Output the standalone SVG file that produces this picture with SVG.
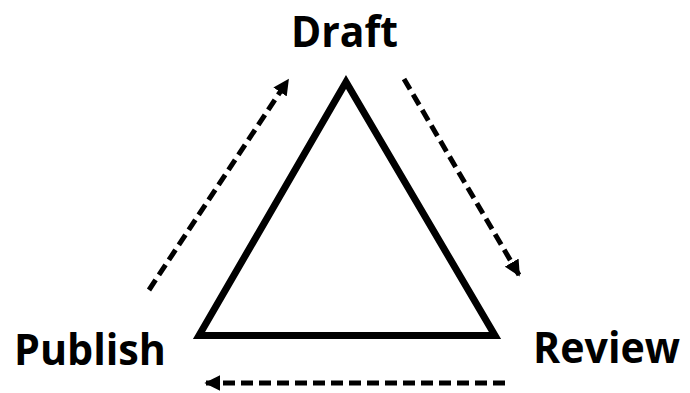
<svg xmlns="http://www.w3.org/2000/svg" width="690" height="393" viewBox="0 0 690 393">
<defs>
<style>
.lbl{font-family:"Open Sans","Noto Sans","Liberation Sans",sans-serif;font-weight:700;font-size:43px;fill:#000}
.tri{fill:none;stroke:#000;stroke-width:7;stroke-linejoin:miter}
.con{fill:none;stroke:#000;stroke-width:5;stroke-dasharray:12 6}
</style>
<marker id="ah" viewBox="0 0 10 10" refX="9" refY="5" markerWidth="3.2" markerHeight="3.2" markerUnits="strokeWidth" orient="auto">
<path d="M0,0 L10,5 L0,10 Z" fill="#000"/>
</marker>
</defs>
<g id="triangle">
<path class="tri" d="M346,82 L199,335.5 L495,335.5 Z"/>
</g>
<g id="draft"><text class="lbl" x="291" y="46.5" textLength="107" lengthAdjust="spacingAndGlyphs">Draft</text></g>
<g id="publish"><text class="lbl" x="14" y="365" textLength="152" lengthAdjust="spacingAndGlyphs">Publish</text></g>
<g id="review"><text class="lbl" x="533" y="363" textLength="147" lengthAdjust="spacingAndGlyphs">Review</text></g>
<g id="connectors">
<path class="con" d="M149,290 L288,80" marker-end="url(#ah)"/>
<path class="con" d="M404,79 L519,275" marker-end="url(#ah)"/>
<path class="con" d="M505,383 L206,383" marker-end="url(#ah)"/>
</g>
</svg>
